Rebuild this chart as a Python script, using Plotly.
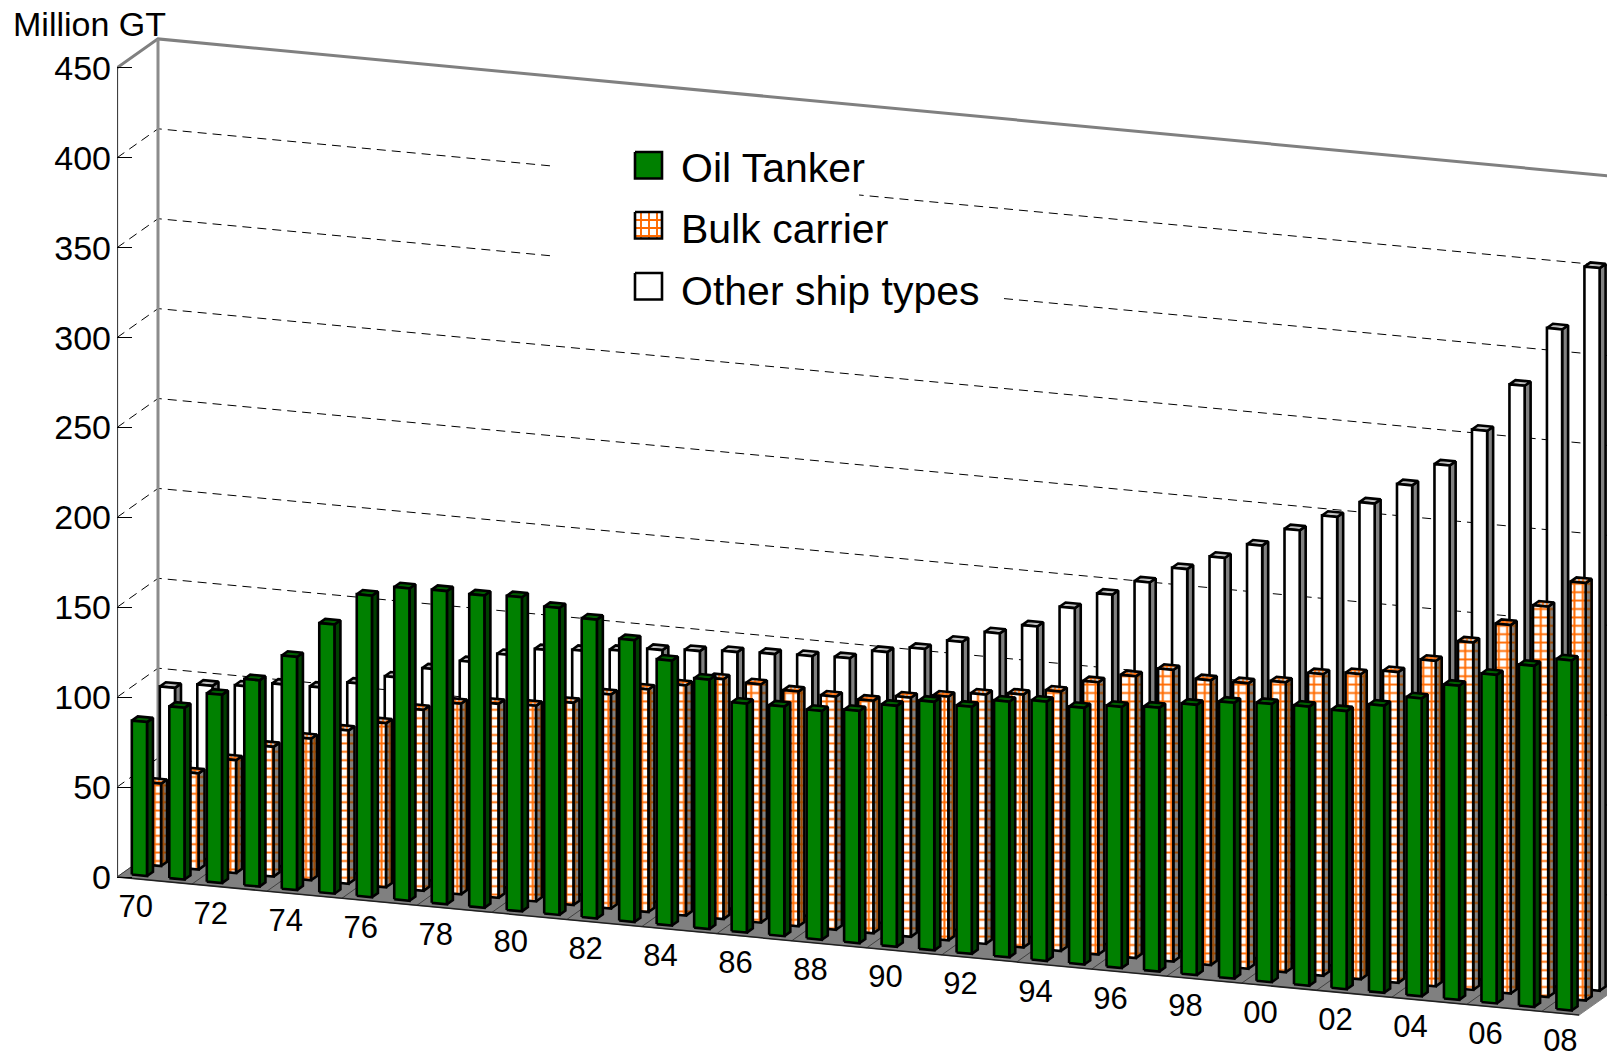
import plotly.graph_objects as go

years = list(range(1970, 2009))
tick_labels = ["70","72","74","76","78","80","82","84","86","88","90","92","94","96","98","00","02","04","06","08"]
y_ticks = [0,50,100,150,200,250,300,350,400,450]
oil_tanker = [85.6,95.5,104.7,114.7,129.7,149.7,167.7,173.7,174.2,173.7,174.7,170.7,166.2,156.7,147.3,138.7,127.3,127.7,127.2,129.2,
              134,138.2,137.4,142.2,144.2,142.7,145.2,146.7,150.3,153.4,154.7,155.2,154.7,159.7,165.7,174.7,182.7,189.7,194.7]
bulk_carrier = [45.8,53.5,62.8,72.2,78.7,85.2,91.2,100.6,106,107.9,108.8,112.4,119,123.8,128,133.4,132.5,130.5,129.6,129.3,
                133,135.5,138.6,140.6,144.2,151.4,156.7,162.2,158.4,158.7,161.2,167.7,169.7,172.8,181,193.2,204.9,217.1,232.2]
other_types = [93.6,96.7,98.2,101.2,101.5,105.7,111.1,117.6,123.6,129.5,134.2,135.7,137.7,140.2,141.6,143,143.9,144.7,145.5,150.9,
               154.6,160.5,167.2,173,185.2,194.6,203.4,212.8,221,229.8,240.3,249.7,259.1,271.2,284.2,305.4,332.5,365.8,401.9]

# oblique projection of the 3-D box onto the flat axes (units: years, value)
PX_X = 37.49; PX_Y = 1.798; ORG_X = 117; ORG_Y = 877
SKEW = 3.54 / PX_Y
DX = 41 / PX_X
DY = 29 / PX_Y
def P(i, d, v):
    return i + DX * d, v - SKEW * i + DY * d
def px(x, y):
    return (x - ORG_X) / PX_X, (ORG_Y - y) / PX_Y

BAR_OFF = 0.267; BAR_W = 0.405; BAR_D = 0.146

def faces(values, d0):
    fx, fy, sx, sy, tx, ty = [], [], [], [], [], []
    for k, v in enumerate(values):
        a = k + BAR_OFF; b = a + BAR_W; d1 = d0 + BAR_D
        for xs, ys, pts in (
            (fx, fy, [(a,d0,0),(b,d0,0),(b,d0,v),(a,d0,v),(a,d0,0)]),
            (sx, sy, [(b,d0,0),(b,d1,0),(b,d1,v),(b,d0,v),(b,d0,0)]),
            (tx, ty, [(a,d0,v),(b,d0,v),(b,d1,v),(a,d1,v),(a,d0,v)]),
        ):
            for p in pts:
                x, y = P(*p); xs.append(x); ys.append(y)
            xs.append(None); ys.append(None)
    return fx, fy, sx, sy, tx, ty

def poly(xs, ys, fill=None, line="black", w=2.6, pattern=None, name=None, dash=None):
    kw = dict(x=xs, y=ys, mode="lines", hoverinfo="skip", showlegend=False, name=name,
              line=dict(color=line, width=w, dash=dash))
    if fill is not None or pattern is not None:
        kw["fill"] = "toself"
        kw["fillcolor"] = fill
    if pattern is not None:
        kw["fillpattern"] = pattern
    return go.Scatter(**kw)

fig = go.Figure()

# floor
N = len(years)
cs = [P(0,0,0), P(N,0,0), P(N,1,0), P(0,1,0), P(0,0,0)]
fig.add_trace(poly([c[0] for c in cs], [c[1] for c in cs], fill="#808080", line="#808080", w=1))
fx, fy = [], []
for k in range(0, N + 1, 2):
    for d in (0, 1):
        x, y = P(k, d, 0); fx.append(x); fy.append(y)
    fx.append(None); fy.append(None)
fig.add_trace(poly(fx, fy, line="#404040", w=1))
x0, y0 = P(0,0,0); x1, y1 = P(N,0,0)
fig.add_trace(poly([x0,x1],[y0,y1], line="#202020", w=1.5))

# dashed gridlines
gx, gy = [], []
for v in y_ticks[1:-1]:
    for p in (P(0,0,v), P(0,1,v), P(N,1,v)):
        gx.append(p[0]); gy.append(p[1])
    gx.append(None); gy.append(None)
fig.add_trace(poly(gx, gy, line="black", w=1, dash="9px,6px"))

# walls
top = y_ticks[-1]
p = [P(0,0,top), P(0,1,top), P(N,1,top)]
fig.add_trace(poly([q[0] for q in p], [q[1] for q in p], line="#808080", w=3))
p = [P(0,1,0), P(0,1,top)]
fig.add_trace(poly([q[0] for q in p], [q[1] for q in p], line="#8c8c8c", w=3))
p = [P(0,0,0), P(0,0,top)]
fig.add_trace(poly([q[0] for q in p], [q[1] for q in p], line="#404040", w=2.2))

# white mask behind the legend
for (l, t, r, b) in ((550, 140, 859, 213), (550, 213, 1000, 310)):
    a = px(l, t); c = px(r, b)
    fig.add_trace(poly([a[0], c[0], c[0], a[0], a[0]], [a[1], a[1], c[1], c[1], a[1]], fill="white", line="white", w=0.1))

ORANGE = "#ff6a00"
grid_front = dict(shape="+", fgcolor=ORANGE, bgcolor="white", size=8.4, solidity=0.42, fillmode="replace")
grid_side = dict(shape="+", fgcolor="#a04a00", bgcolor="#808080", size=8.4, solidity=0.42, fillmode="replace")
grid_top = dict(shape="+", fgcolor=ORANGE, bgcolor="#c0c0c0", size=4, solidity=0.6, fillmode="replace")

# bars, back row to front row
f = faces(other_types, 0.80)
fig.add_trace(poly(f[2], f[3], fill="#808080", name="Other ship types"))
fig.add_trace(poly(f[4], f[5], fill="#c0c0c0", name="Other ship types"))
fig.add_trace(poly(f[0], f[1], fill="white", name="Other ship types"))

f = faces(bulk_carrier, 0.46)
fig.add_trace(poly(f[2], f[3], fill="#808080", pattern=grid_side, name="Bulk carrier"))
fig.add_trace(poly(f[4], f[5], fill="#c0c0c0", pattern=grid_top, name="Bulk carrier"))
fig.add_trace(poly(f[0], f[1], fill="white", pattern=grid_front, name="Bulk carrier"))

f = faces(oil_tanker, 0.117)
fig.add_trace(poly(f[2], f[3], fill="#004000", name="Oil Tanker"))
fig.add_trace(poly(f[4], f[5], fill="#006000", name="Oil Tanker"))
fig.add_trace(poly(f[0], f[1], fill="#008000", name="Oil Tanker"))

# year labels under the front edge
lx, ly = [], []
for j, t in enumerate(tick_labels):
    k = 2 * j
    x, y = P(k + 0.5, 0, -16.7)
    lx.append(x); ly.append(y)
fig.add_trace(go.Scatter(x=lx, y=ly, mode="text", text=tick_labels, textposition="middle center",
                         textfont=dict(family="Liberation Sans", size=31, color="black"),
                         hoverinfo="skip", showlegend=False))

# legend
legend_rows = [("Oil Tanker", 152, 168, dict(fill="#008000")),
               ("Bulk carrier", 212, 229, dict(fill="white", pattern=dict(shape="+", fgcolor=ORANGE, bgcolor="white", size=8, solidity=0.42, fillmode="replace"))),
               ("Other ship types", 273, 291, dict(fill="white"))]
for label, top_px, text_px, st in legend_rows:
    a = px(635, top_px); c = px(662, top_px + 26.5)
    fig.add_trace(poly([a[0], c[0], c[0], a[0], a[0]], [a[1], a[1], c[1], c[1], a[1]], w=2.6, **st))
    fig.add_annotation(xref="paper", yref="paper", x=(679 - ORG_X) / (1607 - ORG_X), y=1 - text_px / 1056,
                       text=label, showarrow=False, xanchor="left", yanchor="middle", align="left",
                       font=dict(family="Liberation Sans", size=41, color="black"))

fig.add_annotation(xref="paper", yref="paper", x=(11 - ORG_X) / (1607 - ORG_X), y=1 - 24 / 1056, text="Million GT",
                   showarrow=False, xanchor="left", yanchor="middle",
                   font=dict(family="Liberation Sans", size=34, color="black"))

fig.update_layout(
    width=1607, height=1056, margin=dict(l=ORG_X, r=0, t=0, b=0, pad=0),
    paper_bgcolor="white", plot_bgcolor="white", showlegend=False,
    xaxis=dict(range=[0, (1607 - ORG_X) / PX_X], visible=False, fixedrange=True),
    yaxis=dict(range=[(ORG_Y - 1056) / PX_Y, ORG_Y / PX_Y], tickmode="array", tickvals=y_ticks,
               ticktext=[str(v) for v in y_ticks], ticks="inside", ticklen=15, tickcolor="black", tickwidth=1,
               showgrid=False, zeroline=False, showline=False, fixedrange=True, ticklabelstandoff=5,
               tickfont=dict(family="Liberation Sans", size=34, color="black")),
)
fig.write_html("out.html", config={"displayModeBar": False},
               post_script="document.body.style.margin='0';document.documentElement.style.overflow='hidden';")
